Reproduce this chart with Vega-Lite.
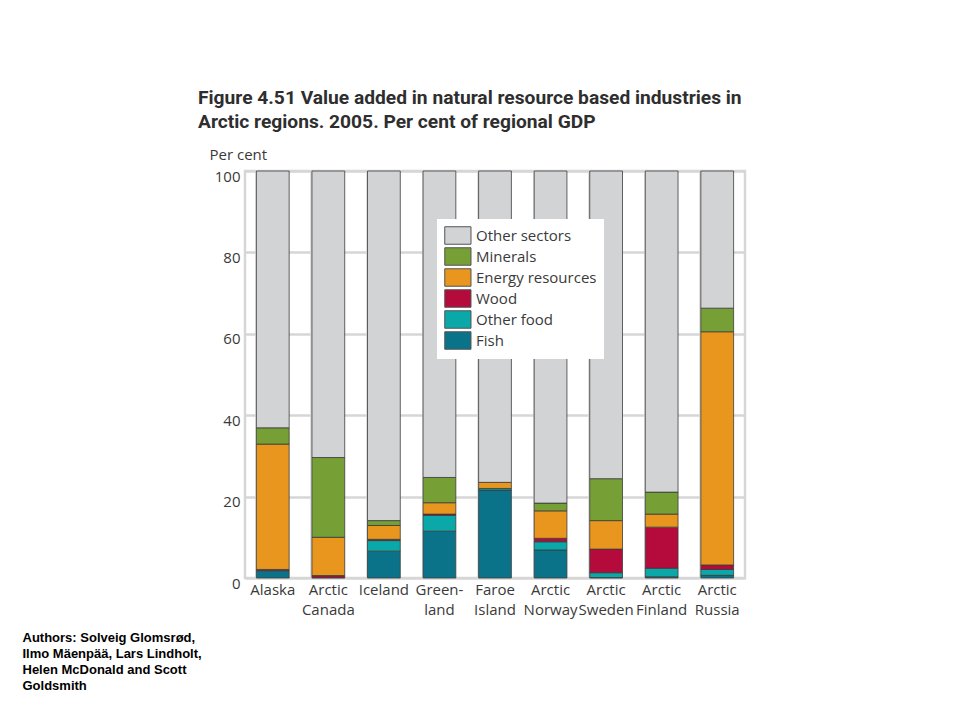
{
  "$schema": "https://vega.github.io/schema/vega-lite/v6.json",
  "width": 500,
  "height": 407,
  "autosize": {"type": "none"},
  "padding": {"left": 245, "top": 171, "right": 215, "bottom": 139},
  "background": "#ffffff",
  "title": {
    "text": ["Figure 4.51 Value added in natural resource based industries in", "Arctic regions. 2005. Per cent of regional GDP"],
    "anchor": "start",
    "frame": "group",
    "dx": -47,
    "font": "Roboto",
    "fontSize": 19.2,
    "fontWeight": "bold",
    "color": "#2e2e2e",
    "lineHeight": 24,
    "offset": 15
  },
  "config": {
    "view": {"stroke": "#d6d6d6", "strokeWidth": 2.5},
    "font": "Open Sans"
  },
  "datasets": {
    "sectors": [
      {"sector": "Fish", "rank": 1},
      {"sector": "Other food", "rank": 2},
      {"sector": "Wood", "rank": 3},
      {"sector": "Energy resources", "rank": 4},
      {"sector": "Minerals", "rank": 5},
      {"sector": "Other sectors", "rank": 6}
    ],
    "shares": [
      {"region": "Alaska", "sector": "Fish", "value": 1.8},
      {"region": "Alaska", "sector": "Wood", "value": 0.3},
      {"region": "Alaska", "sector": "Energy resources", "value": 30.8},
      {"region": "Alaska", "sector": "Minerals", "value": 4.0},
      {"region": "Alaska", "sector": "Other sectors", "value": 63.1},
      {"region": "Arctic Canada", "sector": "Fish", "value": 0.1},
      {"region": "Arctic Canada", "sector": "Wood", "value": 0.5},
      {"region": "Arctic Canada", "sector": "Energy resources", "value": 9.4},
      {"region": "Arctic Canada", "sector": "Minerals", "value": 19.6},
      {"region": "Arctic Canada", "sector": "Other sectors", "value": 70.4},
      {"region": "Iceland", "sector": "Fish", "value": 6.6},
      {"region": "Iceland", "sector": "Other food", "value": 2.6},
      {"region": "Iceland", "sector": "Wood", "value": 0.3},
      {"region": "Iceland", "sector": "Energy resources", "value": 3.4},
      {"region": "Iceland", "sector": "Minerals", "value": 1.2},
      {"region": "Iceland", "sector": "Other sectors", "value": 85.9},
      {"region": "Greenland", "sector": "Fish", "value": 11.5},
      {"region": "Greenland", "sector": "Other food", "value": 3.9},
      {"region": "Greenland", "sector": "Wood", "value": 0.3},
      {"region": "Greenland", "sector": "Energy resources", "value": 2.8},
      {"region": "Greenland", "sector": "Minerals", "value": 6.2},
      {"region": "Greenland", "sector": "Other sectors", "value": 75.3},
      {"region": "Faroe Island", "sector": "Fish", "value": 21.6},
      {"region": "Faroe Island", "sector": "Other food", "value": 0.4},
      {"region": "Faroe Island", "sector": "Energy resources", "value": 1.5},
      {"region": "Faroe Island", "sector": "Other sectors", "value": 76.5},
      {"region": "Arctic Norway", "sector": "Fish", "value": 6.9},
      {"region": "Arctic Norway", "sector": "Other food", "value": 2.0},
      {"region": "Arctic Norway", "sector": "Wood", "value": 0.85},
      {"region": "Arctic Norway", "sector": "Energy resources", "value": 6.75},
      {"region": "Arctic Norway", "sector": "Minerals", "value": 1.9},
      {"region": "Arctic Norway", "sector": "Other sectors", "value": 81.6},
      {"region": "Arctic Sweden", "sector": "Fish", "value": 0.1},
      {"region": "Arctic Sweden", "sector": "Other food", "value": 1.2},
      {"region": "Arctic Sweden", "sector": "Wood", "value": 5.8},
      {"region": "Arctic Sweden", "sector": "Energy resources", "value": 7.0},
      {"region": "Arctic Sweden", "sector": "Minerals", "value": 10.3},
      {"region": "Arctic Sweden", "sector": "Other sectors", "value": 75.6},
      {"region": "Arctic Finland", "sector": "Fish", "value": 0.3},
      {"region": "Arctic Finland", "sector": "Other food", "value": 2.1},
      {"region": "Arctic Finland", "sector": "Wood", "value": 10.1},
      {"region": "Arctic Finland", "sector": "Energy resources", "value": 3.2},
      {"region": "Arctic Finland", "sector": "Minerals", "value": 5.4},
      {"region": "Arctic Finland", "sector": "Other sectors", "value": 78.9},
      {"region": "Arctic Russia", "sector": "Fish", "value": 0.65},
      {"region": "Arctic Russia", "sector": "Other food", "value": 1.45},
      {"region": "Arctic Russia", "sector": "Wood", "value": 1.1},
      {"region": "Arctic Russia", "sector": "Energy resources", "value": 57.3},
      {"region": "Arctic Russia", "sector": "Minerals", "value": 5.8},
      {"region": "Arctic Russia", "sector": "Other sectors", "value": 33.7}
    ]
  },
  "data": {"name": "shares"},
  "transform": [
    {"lookup": "sector", "from": {"data": {"name": "sectors"}, "key": "sector", "fields": ["rank"]}}
  ],
  "mark": {"type": "bar", "stroke": "#3c3c3c", "strokeWidth": 0.8},
  "encoding": {
    "x": {
      "field": "region",
      "type": "nominal",
      "sort": null,
      "scale": {"paddingInner": 0.41, "paddingOuter": 0.205},
      "axis": {
        "title": ["Authors: Solveig Glomsrød,", "Ilmo Mäenpää, Lars Lindholt,", "Helen McDonald and Scott", "Goldsmith"],
        "titleFont": "Liberation Sans",
        "titleFontSize": 13,
        "titleFontWeight": "bold",
        "titleColor": "#000000",
        "titleAlign": "left",
        "titleAnchor": "start",
        "titleBaseline": "alphabetic",
        "titleLineHeight": 16,
        "titleX": -223,
        "titleY": 63,
        "labelAngle": 0,
        "labelFontSize": 15,
        "labelColor": "#3a3a3a",
        "labelLineHeight": 20,
        "labelPadding": 4,
        "labelBaseline": "top",
        "labelExpr": "datum.label == 'Greenland' ? ['Green-', 'land'] : split(datum.label, ' ')",
        "domain": false,
        "ticks": false,
        "grid": true,
        "bandPosition": 0,
        "gridColor": "#d6d6d6",
        "gridWidth": 2.5
      }
    },
    "y": {
      "field": "value",
      "type": "quantitative",
      "stack": "zero",
      "scale": {"domain": [0, 100]},
      "axis": {
        "title": "Per cent",
        "titleAngle": 0,
        "titleAlign": "left",
        "titleBaseline": "alphabetic",
        "titleX": -36,
        "titleY": -12,
        "titleFontSize": 15,
        "titleFontWeight": "normal",
        "titleColor": "#3a3a3a",
        "values": [0, 20, 40, 60, 80, 100],
        "labelFontSize": 15,
        "labelColor": "#3a3a3a",
        "labelPadding": 5,
        "labelOffset": 5,
        "domain": false,
        "ticks": false,
        "gridColor": "#d6d6d6",
        "gridWidth": 2.5
      }
    },
    "order": {"field": "rank", "type": "quantitative", "sort": "ascending"},
    "color": {
      "field": "sector",
      "type": "nominal",
      "scale": {
        "domain": ["Other sectors", "Minerals", "Energy resources", "Wood", "Other food", "Fish"],
        "range": ["#d2d3d5", "#76a035", "#e8961e", "#b50a3c", "#0aa8a8", "#0b7389"]
      },
      "legend": {
        "title": null,
        "orient": "none",
        "legendX": 192,
        "legendY": 48,
        "fillColor": "#ffffff",
        "padding": 7,
        "symbolType": "M-1,-1H2V1H-1Z",
        "symbolSize": 306,
        "symbolStrokeColor": "#555555",
        "symbolStrokeWidth": 1,
        "symbolOpacity": 1,
        "labelFontSize": 15,
        "labelColor": "#3a3a3a",
        "labelOffset": 13,
        "rowPadding": -2
      }
    }
  }
}
